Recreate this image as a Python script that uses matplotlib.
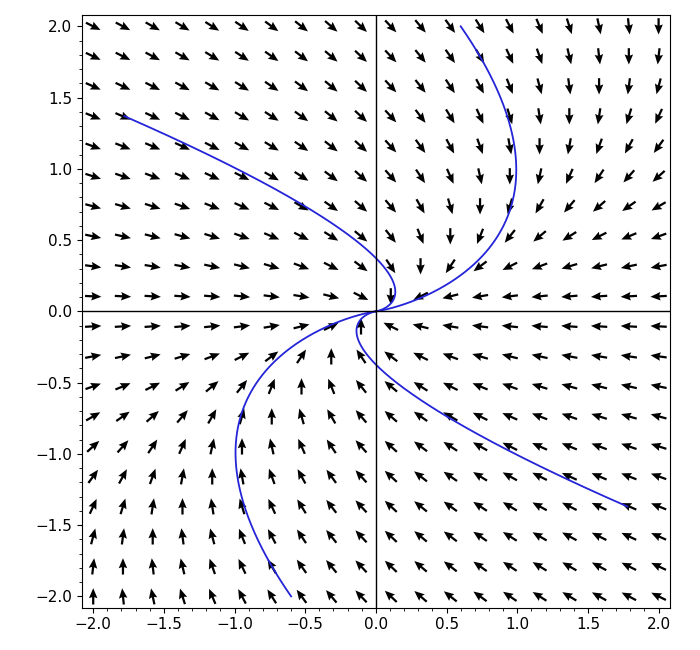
import numpy as np
import matplotlib.pyplot as plt
from matplotlib.ticker import MultipleLocator

# system: x' = -x + y, y' = -y
grid_n = 20
starts = [(-1.78, 1.37), (0.6, 2.0), (1.78, -1.37), (-0.6, -2.0)]
ticks = [-2.0, -1.5, -1.0, -0.5, 0.0, 0.5, 1.0, 1.5, 2.0]


def field(x, y):
    return -x + y, -y


fig = plt.figure(figsize=(7, 6.5), dpi=100)
ax = fig.add_axes([0.117, 0.065, 0.84, 0.912])

g = np.linspace(-2, 2, grid_n)
X, Y = np.meshgrid(g, g)
U, V = field(X, Y)
n = np.hypot(U, V)
n[n == 0] = 1
ax.quiver(X, Y, U / n, V / n, pivot="middle", color="black",
          scale=36, width=0.0038, headwidth=3.8, headlength=4.5, headaxislength=4)

# trajectories
t = np.linspace(0, 12, 2000)
for x0, y0 in starts:
    ys = y0 * np.exp(-t)
    xs = (x0 + y0 * t) * np.exp(-t)
    ax.plot(xs, ys, color="#2424d8", lw=1.3)

ax.axhline(0, color="black", lw=1)
ax.axvline(0, color="black", lw=1)
ax.set_xlim(-2.08, 2.08)
ax.set_ylim(-2.08, 2.08)
ax.set_xticks(ticks)
ax.set_yticks(ticks)
ax.xaxis.set_minor_locator(MultipleLocator(0.1))
ax.yaxis.set_minor_locator(MultipleLocator(0.1))
ax.tick_params(labelsize=11)

fig.savefig("out.png")
